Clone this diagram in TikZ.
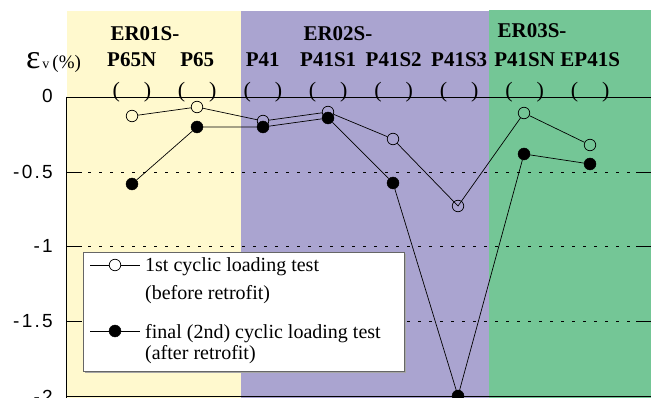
\documentclass[tikz,border=0pt]{standalone}
\usepackage{fontspec}
\setmainfont{Liberation Serif}
\newfontfamily\ticksfont[LetterSpace=12]{Liberation Sans}
\definecolor{bgyellow}{RGB}{255,249,206}
\definecolor{bgpurple}{RGB}{170,164,208}
\definecolor{bggreen}{RGB}{116,198,150}
\begin{document}
\begin{tikzpicture}[x=1pt,y=-1pt,
  hdr/.style={font=\fontsize{21}{21}\selectfont\bfseries, inner sep=0pt, anchor=base},
  par/.style={font=\fontsize{22}{22}\selectfont, inner sep=0pt, anchor=base},
  tick/.style={font=\ticksfont\fontsize{19}{19}\selectfont, inner sep=0pt, anchor=east},
  opn/.style={circle, draw=black, fill=none, line width=0.7pt, minimum size=11.5pt, inner sep=0pt},
  fil/.style={circle, draw=black, fill=black, minimum size=12pt, inner sep=0pt},
  dl/.style={black, line width=0.8pt, dash pattern=on 3pt off 8pt},
  dat/.style={black, line width=0.7pt},
  leg/.style={font=\fontsize{20}{20}\selectfont, inner sep=0pt, anchor=base west}]
\useasboundingbox (0,0) rectangle (651,398);
% backgrounds
\fill[bgyellow] (67,11) rectangle (241,398);
\fill[bgpurple] (241,11) rectangle (489,398);
\fill[bggreen] (489,10) rectangle (651,398);
% grid lines
\draw[black, line width=0.5pt] (66,97) -- (651,97);
\draw[dl] (66,97) -- (651,97);
\draw[dl] (66,172) -- (651,172);
\draw[dl] (66,246) -- (651,246);
\draw[dl] (66,321) -- (651,321);
\draw[black, line width=0.8pt] (66,396) -- (651,396);
\draw[black, line width=0.8pt] (66,97) -- (66,398);
\foreach \yy in {97,172,246,321}{
  \draw[black, line width=0.8pt] (66,\yy) -- (82,\yy);
  \draw[black, line width=0.8pt] (636,\yy) -- (651,\yy);
}
% tick labels
\node[tick] (t0) at (53,96) {0};
\node[tick] (t1) at (53,172) {-0.5};
\node[tick] (t2) at (53,246) {-1};
\node[tick] (t3) at (53,321) {-1.5};
\node[tick] (t4) at (53,397) {-2};
% axis label
\node[inner sep=0pt, anchor=base west] (ylab) at (26,69) {{\fontsize{34}{34}\selectfont ε}\hspace{2pt}{\fontsize{14}{14}\selectfont v}\hspace{3pt}{\fontsize{19}{19}\selectfont (\%)}};
% header labels
\node[hdr] (g1) at (145,41) {ER01S-};
\node[hdr] (g2) at (338,41) {ER02S-};
\node[hdr] (g3) at (532,38) {ER03S-};
\node[hdr] (h1) at (131.7,67) {P65N};
\node[hdr] (h2) at (197.2,67) {P65};
\node[hdr] (h3) at (262.7,67) {P41};
\node[hdr] (h4) at (328.2,67) {P41S1};
\node[hdr] (h5) at (393.7,67) {P41S2};
\node[hdr] (h6) at (459.2,67) {P41S3};
\node[hdr] (h7) at (524.7,67) {P41SN};
\node[hdr] (h8) at (590.2,67) {EP41S};
\foreach \xx/\nm in {132/p1,197.2/p2,263/p3,328.2/p4,393.7/p5,459.2/p6,524.7/p7,590.2/p8}{
  \node[par] (\nm) at (\xx,98) {(\hspace{24pt})};
}
% data: open
\node[opn] (a1) at (132,116) {};
\node[opn] (a2) at (197,107) {};
\node[opn] (a3) at (263,121) {};
\node[opn] (a4) at (328,112) {};
\node[opn] (a5) at (393,139) {};
\node[opn] (a6) at (458,206) {};
\node[opn] (a7) at (524,113) {};
\node[opn] (a8) at (590,145) {};
\draw[dat] (a1) -- (a2) -- (a3) -- (a4) -- (a5) -- (a6.center) -- (a7) -- (a8);
% data: filled
\node[fil] (b1) at (132,184) {};
\node[fil] (b2) at (197,127) {};
\node[fil] (b3) at (263,127) {};
\node[fil] (b4) at (328,118) {};
\node[fil] (b5) at (393,183) {};
\node[fil] (b6) at (458,396) {};
\node[fil] (b7) at (524,154) {};
\node[fil] (b8) at (590,164) {};
\draw[dat] (b1) -- (b2) -- (b3) -- (b4) -- (b5) -- (b6.center) -- (b7) -- (b8);
% legend
\fill[gray!70] (85,254) rectangle (406,373);
\node[draw=gray!80!black, fill=white, line width=0.8pt, minimum width=321pt, minimum height=119pt, inner sep=0pt, anchor=north west] (legbox) at (83,252) {};
\coordinate (l1a) at (90,265);
\coordinate (l1b) at (140,265);
\coordinate (l2a) at (90,331);
\coordinate (l2b) at (140,331);
\node[opn] (lo) at (115,265) {};
\node[fil] (lf) at (115,331) {};
\draw[dat] (l1a) -- (lo) -- (l1b);
\draw[dat] (l2a) -- (lf) -- (l2b);
\node[leg] (lt1) at (145,272) {1st cyclic loading test};
\node[leg] (lt2) at (145,300) {(before retrofit)};
\node[leg] (lt3) at (145,338) {final (2nd) cyclic loading test};
\node[leg] (lt4) at (145,359) {(after retrofit)};
\end{tikzpicture}
\end{document}
